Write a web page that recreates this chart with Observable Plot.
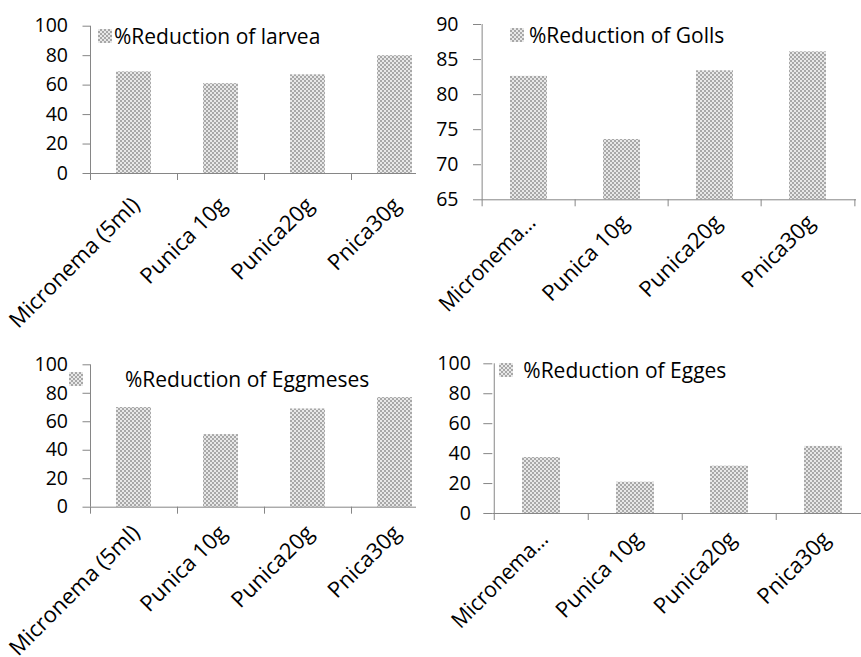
<!DOCTYPE html>
<html><head><meta charset="utf-8">
<script src="https://cdn.jsdelivr.net/npm/d3@7"></script>
<script src="https://cdn.jsdelivr.net/npm/@observablehq/plot@0.6"></script>
<style>
body{margin:0;background:#fff;}
#root{position:relative;width:861px;height:657px;overflow:hidden;font-family:"Open Sans",sans-serif;background:#fff;}
.panel{position:absolute;overflow:hidden;}
.panel svg{max-width:none !important;}
.legend{position:absolute;display:flex;align-items:center;height:28px;line-height:28px;font-size:21px;color:#000;white-space:nowrap;}
.sw{width:14px;height:14px;flex:none;background-image:repeating-conic-gradient(#a8a8a8 0 25%,#e8e8e8 0 50%);background-size:4px 4px;}
</style></head><body>
<svg width="0" height="0" style="position:absolute">
  <defs>
    <pattern id="chk" width="4" height="4" patternUnits="userSpaceOnUse">
      <rect width="4" height="4" fill="#e8e8e8"></rect>
      <rect width="2" height="2" fill="#a8a8a8"></rect>
      <rect x="2" y="2" width="2" height="2" fill="#a8a8a8"></rect>
    </pattern>
  </defs>
</svg>
<div id="root"></div>
<script>
// ---- data ----
const categories = ["Micronema (5ml)", "Punica 10g", "Punica20g", "Pnica30g"];
const labelsFull = ["Micronema (5ml)", "Punica 10g", "Punica20g", "Pnica30g"];
const labelsShort = ["Micronema…", "Punica 10g", "Punica20g", "Pnica30g"];
const larveaValues = [69, 61, 67, 80];
const gollsValues = [82.6, 73.6, 83.4, 86.1];
const eggmesesValues = [70, 51, 69, 77];
const eggesValues = [37.4, 20.9, 31.6, 44.8];
const ticks0to100 = [0, 20, 40, 60, 80, 100];
const ticks65to90 = [65, 70, 75, 80, 85, 90];
const legendLarvea = "%Reduction of larvea";
const legendGolls = "%Reduction of Golls";
const legendEggmeses = "%Reduction of Eggmeses";
const legendEgges = "%Reduction of Egges";

const gray = "#868686";
const root = document.getElementById("root");

function panel(o) {
  const n = categories.length;
  const step = (o.svgW - o.ml - o.mr) / n;
  const data = categories.map((c, i) => ({c, v: o.values[i], lab: o.labels[i]}));
  const y0 = o.yDomain[0];
  const svg = Plot.plot({
    width: o.svgW, height: o.H,
    marginLeft: o.ml, marginRight: o.mr, marginTop: o.mt, marginBottom: o.mb,
    style: {fontFamily: "'Open Sans', sans-serif", fontSize: "19.5px", color: "#000", background: "transparent", overflow: "visible", maxWidth: "none"},
    x: {domain: categories, paddingInner: 0.6, paddingOuter: 0.3, axis: null},
    y: {domain: o.yDomain, axis: null},
    marks: [
      Plot.barY(data, {x: "c", y1: y0, y2: "v", fill: "url(#chk)"}),
      Plot.ruleY([y0], {stroke: gray}),
      Plot.ruleX([categories[0]], {dx: -step / 2, stroke: gray}),
      Plot.ruleX(categories, {dx: -step / 2, y1: y0, y2: y0, insetBottom: -7, stroke: gray}),
      Plot.ruleX([categories[n - 1]], {dx: step / 2, y1: y0, y2: y0, insetBottom: -7, stroke: gray}),
      Plot.axisY({ticks: o.yTicks, label: null, tickSize: o.tickSize, tickPadding: o.tickPad, stroke: gray, fill: "#000", fontSize: 19.5, tickFormat: d => String(d)}),
      Plot.text(data, {x: "c", frameAnchor: "bottom", text: "lab", rotate: -45, textAnchor: "end", lineAnchor: "middle", dx: o.ldx, dy: o.ldy, fontSize: 22, fill: "#000"})
    ]
  });
  // truncated label: condense to the width the original shows
  svg.querySelectorAll("text").forEach(t => {
    if (t.textContent === "Micronema…") {
      t.setAttribute("textLength", "126");
      t.setAttribute("lengthAdjust", "spacingAndGlyphs");
    }
  });
  const wrap = document.createElement("div");
  wrap.className = "panel";
  wrap.style.left = o.L + "px"; wrap.style.top = o.T + "px";
  wrap.style.width = o.clipW + "px"; wrap.style.height = o.H + "px";
  wrap.appendChild(svg);
  root.appendChild(wrap);

  const lg = document.createElement("div");
  lg.className = "legend";
  lg.style.left = o.lgX + "px"; lg.style.top = (o.lgCy - 14) + "px"; lg.style.gap = o.lgGap + "px";
  const sw = document.createElement("span"); sw.className = "sw";
  const tx = document.createElement("span"); tx.textContent = o.legend;
  lg.appendChild(sw); lg.appendChild(tx);
  root.appendChild(lg);
}

panel({L: 0, T: 0, clipW: 416, H: 330, svgW: 438, ml: 90, mr: 0, mt: 25.7, mb: 157,
  values: larveaValues, labels: labelsFull, yDomain: [0, 100], yTicks: ticks0to100, tickSize: 7.5, tickPad: 15,
  ldx: 2, ldy: 28, legend: legendLarvea, lgX: 98, lgCy: 36, lgGap: 2});
panel({L: 430, T: 0, clipW: 431, H: 330, svgW: 431, ml: 51, mr: 5, mt: 24, mb: 130.7,
  values: gollsValues, labels: labelsShort, yDomain: [65, 90], yTicks: ticks65to90, tickSize: 8, tickPad: 15,
  ldx: 3, ldy: 19, legend: legendGolls, lgX: 510, lgCy: 35.3, lgGap: 5});
panel({L: 0, T: 330, clipW: 416, H: 327, svgW: 438, ml: 90, mr: 0, mt: 34.3, mb: 150.3,
  values: eggmesesValues, labels: labelsFull, yDomain: [0, 100], yTicks: ticks0to100, tickSize: 7.5, tickPad: 15,
  ldx: 2, ldy: 22, legend: legendEggmeses, lgX: 69, lgCy: 378.7, lgGap: 42});
panel({L: 430, T: 330, clipW: 431, H: 327, svgW: 440.3, ml: 62.3, mr: 0, mt: 33.3, mb: 144,
  values: eggesValues, labels: labelsShort, yDomain: [0, 100], yTicks: ticks0to100, tickSize: 9, tickPad: 13,
  ldx: 3, ldy: 22, legend: legendEgges, lgX: 499.3, lgCy: 370.3, lgGap: 10});
</script>
</body></html>
